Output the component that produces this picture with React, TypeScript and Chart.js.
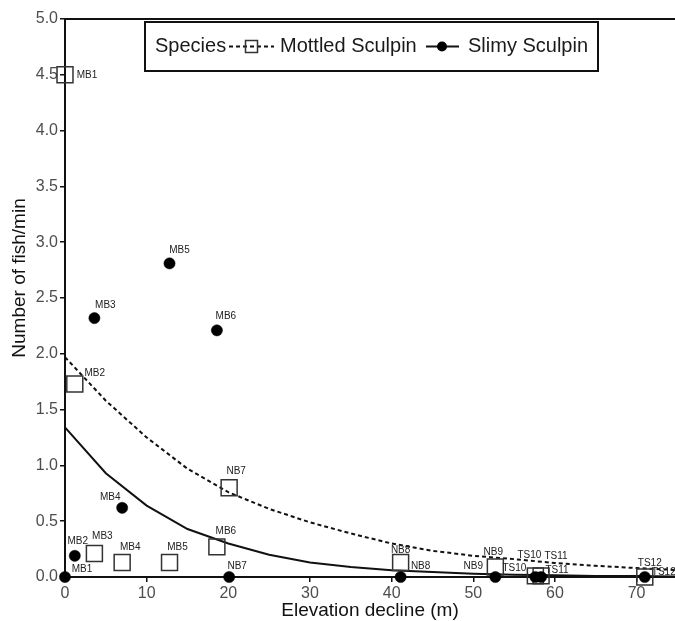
import React, { useEffect, useRef } from 'react';
import { Chart, registerables } from 'chart.js';

Chart.register(...registerables);

// ---- data ----
const sites = ['MB1', 'MB2', 'MB3', 'MB4', 'MB5', 'MB6', 'NB7', 'NB8', 'NB9', 'TS10', 'TS11', 'TS12'];
const elevation = [0, 1.2, 3.6, 7.0, 12.8, 18.6, 20.1, 41.1, 52.7, 57.6, 58.3, 71.0];
const mottled = [4.5, 1.73, 0.21, 0.13, 0.13, 0.27, 0.8, 0.13, 0.09, 0.01, 0.01, 0.0];
const slimy = [0, 0.19, 2.32, 0.62, 2.81, 2.21, 0, 0, 0, 0, 0, 0];

const fitX = [0, 5, 10, 15, 20, 25, 30, 35, 40, 45, 50, 55, 60, 65, 70, 75];
const mottledFit = [1.97, 1.58, 1.25, 0.97, 0.76, 0.61, 0.49, 0.39, 0.3, 0.235, 0.19, 0.16, 0.125, 0.1, 0.08, 0.062];
const slimyFit = [1.34, 0.93, 0.64, 0.43, 0.3, 0.2, 0.13, 0.09, 0.06, 0.045, 0.03, 0.02, 0.015, 0.01, 0.008, 0.005];

const xTicks = [0, 10, 20, 30, 40, 50, 60, 70];
const yTicks = [0, 0.5, 1, 1.5, 2, 2.5, 3, 3.5, 4, 4.5, 5];

const xTitle = 'Elevation decline (m)';
const yTitle = 'Number of fish/min';
const legendTitle = 'Species';
const seriesNames = ['Mottled Sculpin', 'Slimy Sculpin'];

// label offsets (pixels from the point centre), layout only
const mottledLabelOffsets: number[][] = [
  [22, 0], [20, -11], [8, -17], [8, -15], [8, -15], [9, -16],
  [7, -16], [0, -12], [-2, -15], [-6, -21], [15, -20], [5, -14],
];
const slimyLabelOffsets: number[][] = [
  [17, -8], [3, -15], [11, -13], [-12, -11], [10, -13], [9, -14],
  [8, -11], [20, -11], [-22, -11], [-21, -9], [16, -7], [19, -5],
];

const FONT = "'Liberation Sans', Arial, Helvetica, sans-serif";

const decorPlugin = {
  id: 'decor',
  afterDatasetsDraw(chart: any) {
    const ctx = chart.ctx as CanvasRenderingContext2D;
    const { left, top } = chart.chartArea;
    ctx.save();

    // top border of the panel
    ctx.strokeStyle = '#111';
    ctx.lineWidth = 2;
    ctx.beginPath();
    ctx.moveTo(left, top);
    ctx.lineTo(chart.width, top);
    ctx.stroke();

    // point labels
    ctx.font = `10px ${FONT}`;
    ctx.fillStyle = '#222';
    ctx.textAlign = 'center';
    ctx.textBaseline = 'middle';
    const sets: [number, number[][]][] = [[2, mottledLabelOffsets], [3, slimyLabelOffsets]];
    sets.forEach(([di, offs]) => {
      const meta = chart.getDatasetMeta(di);
      meta.data.forEach((el: any, j: number) => {
        ctx.fillText(sites[j], el.x + offs[j][0], el.y + offs[j][1]);
      });
    });

    // legend
    const lx = 145, ly = 22, lw = 453, lh = 49;
    const cy = ly + lh / 2;
    ctx.fillStyle = '#fff';
    ctx.fillRect(lx, ly, lw, lh);
    ctx.strokeStyle = '#111';
    ctx.lineWidth = 2;
    ctx.strokeRect(lx, ly, lw, lh);
    ctx.font = `20px ${FONT}`;
    ctx.fillStyle = '#1a1a1a';
    ctx.textAlign = 'left';
    ctx.textBaseline = 'middle';
    ctx.fillText(legendTitle, 155, cy);
    // mottled key
    ctx.strokeStyle = '#111';
    ctx.lineWidth = 2;
    ctx.setLineDash([4, 3]);
    ctx.beginPath();
    ctx.moveTo(229, cy);
    ctx.lineTo(274, cy);
    ctx.stroke();
    ctx.setLineDash([]);
    ctx.lineWidth = 1.5;
    ctx.strokeStyle = '#333';
    ctx.strokeRect(245.5, cy - 6, 12, 12);
    ctx.fillText(seriesNames[0], 280, cy);
    // slimy key
    ctx.strokeStyle = '#111';
    ctx.lineWidth = 2;
    ctx.beginPath();
    ctx.moveTo(426, cy);
    ctx.lineTo(459, cy);
    ctx.stroke();
    ctx.fillStyle = '#000';
    ctx.beginPath();
    ctx.arc(442, cy, 5, 0, Math.PI * 2);
    ctx.fill();
    ctx.fillStyle = '#1a1a1a';
    ctx.fillText(seriesNames[1], 468, cy);

    // axis titles
    ctx.font = `19px ${FONT}`;
    ctx.fillStyle = '#111';
    ctx.textAlign = 'center';
    ctx.textBaseline = 'middle';
    ctx.fillText(xTitle, (left + chart.width) / 2, 611);
    ctx.translate(20, 278);
    ctx.rotate(-Math.PI / 2);
    ctx.fillText(yTitle, 0, 0);
    ctx.restore();
  },
};

export default function App() {
  const ref = useRef<HTMLCanvasElement>(null);

  useEffect(() => {
    if (!ref.current) return;
    const xy = (xs: number[], ys: number[]) => xs.map((x, i) => ({ x, y: ys[i] }));
    const chart = new Chart(ref.current, {
      type: 'scatter',
      data: {
        datasets: [
          {
            label: seriesNames[0] + ' fit',
            data: xy(fitX, mottledFit),
            showLine: true,
            borderColor: '#111',
            borderWidth: 2,
            borderDash: [4, 3],
            pointRadius: 0,
            tension: 0,
            order: 3,
          },
          {
            label: seriesNames[1] + ' fit',
            data: xy(fitX, slimyFit),
            showLine: true,
            borderColor: '#111',
            borderWidth: 2,
            pointRadius: 0,
            tension: 0,
            order: 2,
          },
          {
            label: seriesNames[0],
            data: xy(elevation, mottled),
            pointStyle: 'rect',
            pointRadius: 11.3,
            backgroundColor: 'rgba(0,0,0,0)',
            borderColor: '#333',
            borderWidth: 1.5,
            order: 1,
          },
          {
            label: seriesNames[1],
            data: xy(elevation, slimy),
            pointStyle: 'circle',
            pointRadius: 5.6,
            backgroundColor: '#000',
            borderColor: '#000',
            borderWidth: 0.5,
            order: 0,
          },
        ],
      },
      options: {
        animation: false,
        responsive: false,
        clip: false as any,
        layout: { autoPadding: false, padding: { top: 19, right: 0, bottom: 0, left: 0 } },
        plugins: {
          legend: { display: false },
          tooltip: { enabled: false },
          title: { display: false },
        },
        scales: {
          x: {
            type: 'linear',
            min: 0,
            max: 74.7,
            afterBuildTicks: (s: any) => {
              s.ticks = xTicks.map((v) => ({ value: v }));
            },
            afterFit: (s: any) => {
              s.height = 44;
              s.paddingLeft = 0;
              s.paddingRight = 0;
            },
            grid: { display: true, drawOnChartArea: false, drawTicks: true, tickLength: 5, color: '#111', lineWidth: 1.5 },
            border: { display: true, color: '#111', width: 2 },
            ticks: {
              color: '#4d4d4d',
              font: { size: 16, family: FONT },
              padding: 2,
              maxRotation: 0,
              autoSkip: false,
              callback: (v: any) => String(v),
            },
          },
          y: {
            type: 'linear',
            min: 0,
            max: 5,
            afterBuildTicks: (s: any) => {
              s.ticks = yTicks.map((v) => ({ value: v }));
            },
            afterFit: (s: any) => {
              s.width = 65;
              s.paddingTop = 0;
              s.paddingBottom = 0;
            },
            grid: { display: true, drawOnChartArea: false, drawTicks: true, tickLength: 5, color: '#111', lineWidth: 1.5 },
            border: { display: true, color: '#111', width: 2 },
            ticks: {
              color: '#4d4d4d',
              font: { size: 16, family: FONT },
              padding: 2,
              autoSkip: false,
              callback: (v: any) => Number(v).toFixed(1),
            },
          },
        },
      },
      plugins: [decorPlugin],
    });
    return () => chart.destroy();
  }, []);

  return (
    <div style={{ position: 'fixed', left: 0, top: 0, width: 675, height: 621, background: '#fff' }}>
      <canvas ref={ref} width={675} height={621} style={{ display: 'block' }} />
    </div>
  );
}
